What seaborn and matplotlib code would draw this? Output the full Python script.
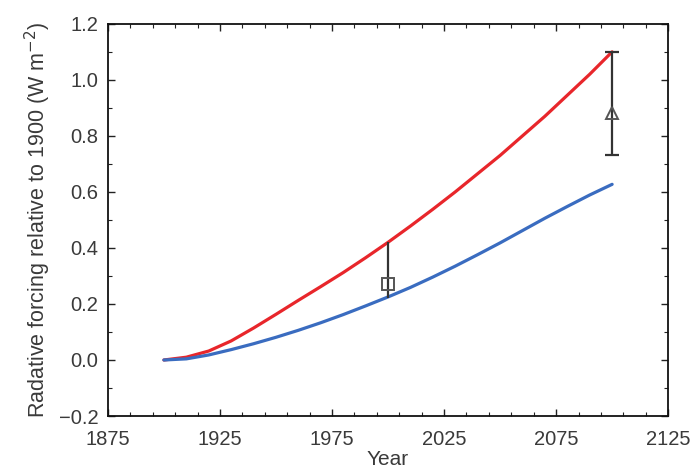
import numpy as np
import pandas as pd
import matplotlib
matplotlib.use("Agg")
import matplotlib.pyplot as plt
import seaborn as sns
from matplotlib.ticker import MultipleLocator, FixedLocator

years = [1900, 1910, 1920, 1930, 1940, 1950, 1960, 1970, 1980, 1990, 2000,
         2010, 2020, 2030, 2040, 2050, 2060, 2070, 2080, 2090, 2100]
red_vals = [0.0, 0.01, 0.032, 0.068, 0.114, 0.163, 0.213, 0.262, 0.312, 0.365, 0.42,
            0.478, 0.538, 0.6, 0.665, 0.73, 0.8, 0.87, 0.945, 1.02, 1.1]
blue_vals = [0.0, 0.004, 0.018, 0.037, 0.058, 0.081, 0.106, 0.133, 0.162, 0.193, 0.225,
             0.259, 0.296, 0.335, 0.376, 0.418, 0.462, 0.506, 0.548, 0.589, 0.627]

obs_years = [2000, 2100]
obs_vals = [0.27, 0.88]
obs_lo = [0.22, 0.73]
obs_hi = [0.42, 1.1]
obs_markers = ["s", "^"]

xticks = [1875, 1925, 1975, 2025, 2075, 2125]
yticks = [-0.2, 0.0, 0.2, 0.4, 0.6, 0.8, 1.0, 1.2]

sns.set_theme(style="ticks")
plt.rcParams['font.family'] = ['Liberation Sans', 'DejaVu Sans']

fig = plt.figure(figsize=(6.96, 4.76), dpi=100)
ax = fig.add_axes([0.155, 0.126, 0.805, 0.824])

df = pd.DataFrame({"Year": years + years,
                   "RF": red_vals + blue_vals,
                   "series": ["red"] * len(years) + ["blue"] * len(years)})
sns.lineplot(data=df, x="Year", y="RF", hue="series",
             palette={"red": "#e8262b", "blue": "#3a6cc0"},
             linewidth=2.3, legend=False, ax=ax)

for yr, v, lo, hi, mk, cap in zip(obs_years, obs_vals, obs_lo, obs_hi, obs_markers, [0, 5]):
    ax.errorbar([yr], [v], yerr=[[v - lo], [hi - v]], fmt="none",
                ecolor="#333333", elinewidth=1.6, capsize=cap, capthick=1.6, zorder=4)
    ax.plot([yr], [v], marker=mk, markersize=9, markerfacecolor="none",
            markeredgecolor="#555555", markeredgewidth=1.4, linestyle="none", zorder=5)

ax.set_xlim(1875, 2125)
ax.set_ylim(-0.2, 1.2)
ax.xaxis.set_major_locator(FixedLocator(xticks))
ax.xaxis.set_minor_locator(FixedLocator(list(range(1875, 2126, 10))))
ax.yaxis.set_major_locator(FixedLocator(yticks))
ax.yaxis.set_minor_locator(MultipleLocator(0.1))
ax.set_xticklabels([str(t) for t in xticks])
ax.set_yticklabels([f"{t:.1f}".replace("-", "\u2212") for t in yticks])
ax.tick_params(which="both", direction="in", top=True, right=True, colors="#222222",
               labelsize=14.5, labelcolor="#3a3a3a")
ax.tick_params(which="major", length=5, width=1)
ax.tick_params(which="minor", length=3, width=0.8)
ax.tick_params(axis="x", which="major", pad=10)
ax.tick_params(axis="y", which="major", pad=7)
for s in ax.spines.values():
    s.set_color("#111111")
    s.set_linewidth(1.3)

ax.set_xlabel("Year", fontsize=15, color="#3a3a3a", labelpad=1)
ax.set_ylabel("Radative forcing relative to 1900 (W m$^{-2}$)", fontsize=15.5,
              color="#3a3a3a", labelpad=4)

fig.savefig("out.png", dpi=100)
